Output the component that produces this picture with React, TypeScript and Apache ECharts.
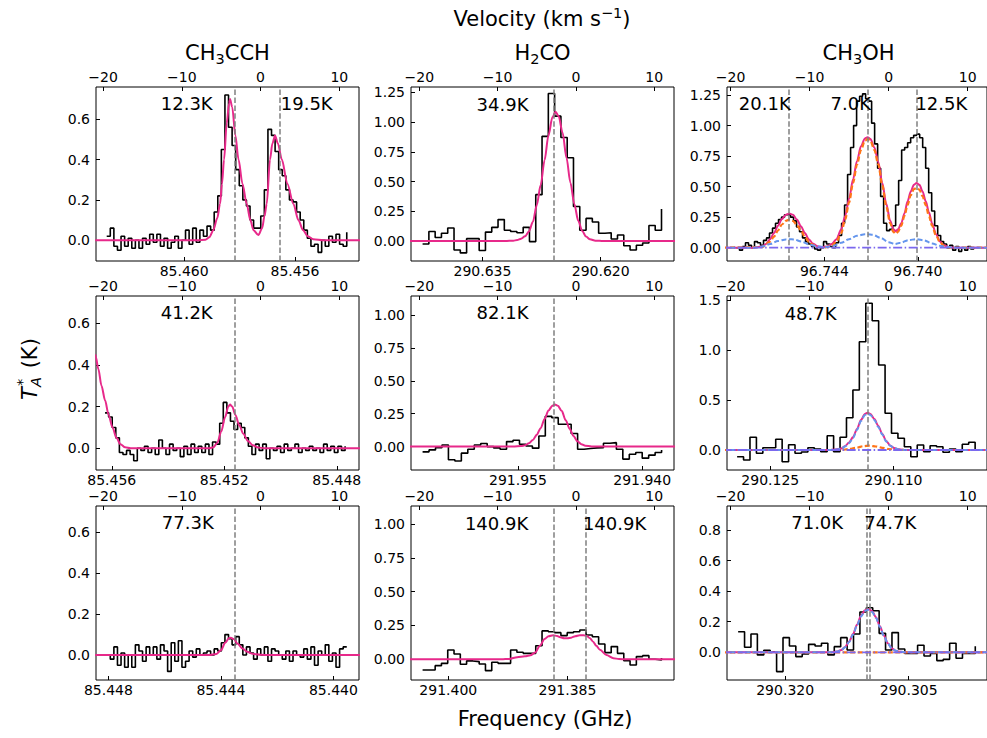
import React, { useEffect, useRef } from 'react';
import * as echarts from 'echarts';

const FONT = 'DejaVu Sans';
const GRID_LEFT = [96, 411, 727];
const GRID_TOP = [87, 296, 506];
const GRID_W = 263;
const GRID_H = 174;

const VEL_TICKS = [-20, -10, 0, 10];
const VEL_RANGE = [[-20.9, 12.5], [-21.06, 12.53], [-20.45, 12.45]];
const COL_TITLES = ['{m|CH}{s|3}{m|CCH}', '{m|H}{s|2}{m|CO}', '{m|CH}{s|3}{m|OH}'];

// ---------- CH3CCH ----------
const CH3CCH_A_T = [0.02, 0.06, -0.03, -0.05, 0.02, -0.03, 0.01, -0.04, 0.0, -0.04, 0.01, -0.02, 0.03, -0.01, 0.03, -0.03, 0.01, -0.04, -0.01, 0.02, -0.04, 0.0, 0.05, -0.02, 0.06, -0.01, 0.05, 0.02, 0.07, 0.05,
  0.14, 0.22, 0.45, 0.72, 0.56, 0.47, 0.35, 0.27, 0.2, 0.17, 0.1, 0.06, 0.06,
  0.12, 0.25, 0.55, 0.52, 0.44, 0.35, 0.32, 0.25, 0.2, 0.19, 0.14, 0.1, 0.05, 0.01,
  -0.03, -0.02, -0.06, 0.0, -0.03, 0.02, -0.01, 0.03, -0.02, -0.03, 0.04];
const CH3CCH_A_FIT = [[-21, 0], [-8, 0], [-7, 0.003], [-6.5, 0.015], [-6, 0.05], [-5.5, 0.11], [-5.15, 0.18], [-4.9, 0.28], [-4.64, 0.4], [-4.3, 0.58], [-4.0, 0.68], [-3.88, 0.70], [-3.6, 0.66], [-3.2, 0.52], [-2.8, 0.40], [-2.3, 0.28], [-1.76, 0.18], [-1.3, 0.1], [-0.9, 0.05], [-0.28, 0.026], [0.2, 0.06], [0.5, 0.12], [0.78, 0.18], [1.2, 0.4], [1.5, 0.48], [1.84, 0.52], [2.2, 0.48], [2.7, 0.40], [3.4, 0.28], [4.17, 0.18], [4.8, 0.1], [5.4, 0.05], [6, 0.02], [6.7, 0.005], [8, 0], [13, 0]];

const CH3CCH_B_T = [0.17, 0.15, 0.1, 0.05, -0.02, -0.03, -0.01, -0.03, -0.06, 0.0, -0.01, 0.01, -0.02, 0.0, -0.03, 0.04, 0.0, -0.03, 0.02, -0.01, 0.0, -0.04, 0.01, -0.03, 0.02, -0.02, 0.01, -0.02, 0.02, -0.03,
  0.03, 0.02, 0.12, 0.22, 0.17, 0.13, 0.09, 0.12, 0.1, 0.05,
  0.01, -0.03, 0.02, -0.01, 0.02, -0.05, 0.0, -0.01, 0.01, -0.02, 0.02, -0.01, 0.0, 0.02, -0.02, 0.0, -0.01, 0.01, -0.01, 0.0, -0.02, 0.02, -0.01, 0.01, -0.02, 0.01, -0.01, 0.01];
const CH3CCH_B_FIT = [[-21, 0.45], [-20.94, 0.44], [-20.6, 0.38], [-20.2, 0.3], [-19.75, 0.23], [-19.3, 0.16], [-18.8, 0.1], [-18.3, 0.05], [-17.8, 0.02], [-17.2, 0.005], [-16.5, 0], [-6.5, 0], [-6, 0.005], [-5.5, 0.025], [-5, 0.08], [-4.5, 0.15], [-4.1, 0.2], [-3.88, 0.21], [-3.6, 0.2], [-3.2, 0.16], [-2.7, 0.11], [-2.2, 0.07], [-1.6, 0.035], [-1, 0.015], [-0.3, 0.004], [0.5, 0], [13, 0]];

const CH3CCH_C_T = [0.0, -0.02, 0.04, -0.05, 0.01, -0.06, 0.0, -0.06, 0.05, 0.02, -0.03, 0.04, 0.0, 0.04, -0.02, 0.05, 0.02, -0.08, 0.06, -0.03, 0.07, -0.06, -0.03, 0.02, -0.01, 0.03, 0.0, 0.01, 0.02, 0.0,
  0.03, 0.02, 0.06, 0.1, 0.08, 0.05, 0.09, 0.05, 0.0, 0.04,
  0.01, -0.02, 0.03, 0.0, 0.04, -0.03, 0.03, 0.02, 0.0, -0.02, 0.02, -0.03, 0.02, 0.0, -0.01, 0.03, -0.02, 0.04, -0.05, 0.02, 0.0, 0.05, -0.03, 0.01, -0.06, 0.03, 0.04, 0.04];
const CH3CCH_C_FIT = [[-21, 0], [-6.5, 0], [-5.6, 0.005], [-5, 0.025], [-4.5, 0.06], [-4, 0.083], [-3.8, 0.085], [-3.4, 0.078], [-2.9, 0.055], [-2.3, 0.032], [-1.7, 0.016], [-1, 0.006], [0, 0.001], [1, 0], [13, 0]];

// ---------- H2CO ----------
const H2CO_A_T = [-0.025, 0.08, 0.03, 0.065, 0.11, -0.075, -0.1, 0.02, 0.02, -0.08, 0.075, 0.115, 0.18, 0.09, 0.08, 0.07, 0.115, -0.005, 0.39, 0.88, 1.24, 1.05, 0.87, 0.70, 0.29, 0.09, 0.19, 0.16, 0.065, 0.07, 0.017, 0.05, -0.04, -0.075, -0.035, -0.017, 0.13, 0.09, 0.27];
const H2CO_A_FIT = [[-22, 0], [-9, 0], [-8, 0.003], [-7.5, 0.008], [-7, 0.02], [-6.5, 0.04], [-6, 0.08], [-5.5, 0.16], [-5, 0.3], [-4.5, 0.47], [-4, 0.68], [-3.5, 0.89], [-3, 1.04], [-2.6, 1.087], [-2.2, 1.05], [-1.7, 0.91], [-1.2, 0.7], [-0.7, 0.49], [-0.2, 0.31], [0.3, 0.17], [0.8, 0.085], [1.3, 0.037], [1.8, 0.015], [2.5, 0.003], [3.5, 0], [13, 0]];

const H2CO_B_T = [-0.04, -0.025, -0.008, 0.012, -0.1, -0.11, -0.05, -0.02, 0.012, 0.023, 0.0, -0.01, -0.02, 0.038, 0.048, 0.018, 0.005, -0.012, 0.08, 0.23, 0.22, 0.17, 0.17, 0.1, -0.02, -0.015, -0.01, -0.008, 0.025, 0.03, -0.02, -0.095, -0.058, -0.045, -0.088, -0.065, -0.045, -0.025];
const H2CO_B_FIT = [[-22, 0], [-8, 0], [-7, 0.004], [-6.5, 0.01], [-6, 0.025], [-5.5, 0.05], [-5, 0.09], [-4.5, 0.14], [-4, 0.21], [-3.5, 0.275], [-3, 0.31], [-2.68, 0.32], [-2.3, 0.31], [-1.8, 0.27], [-1.3, 0.2], [-0.8, 0.135], [-0.3, 0.08], [0.2, 0.04], [0.7, 0.018], [1.2, 0.007], [2, 0.001], [3, 0], [13, 0]];

const H2CO_C_T = [-0.079, -0.079, -0.047, -0.03, 0.069, 0.039, -0.037, -0.012, -0.017, -0.035, -0.084, -0.022, -0.03, -0.03, 0.069, 0.052, 0.044, 0.044, 0.1, 0.21, 0.204, 0.197, 0.175, 0.197, 0.204, 0.217, 0.18, 0.167, 0.113, 0.049, 0.094, 0.044, -0.01, -0.042, 0.02, 0.027, 0.0, -0.005, 0.01];
const H2CO_C_FIT = [[-22, 0], [-9.5, 0], [-8.5, 0.003], [-7.5, 0.015], [-6.5, 0.022], [-5.8, 0.03], [-5.2, 0.05], [-4.6, 0.1], [-4.0, 0.15], [-3.5, 0.17], [-2.9, 0.178], [-2.4, 0.172], [-2, 0.163], [-1.5, 0.156], [-1.1, 0.155], [-0.6, 0.16], [-0.1, 0.17], [0.5, 0.178], [1.0, 0.178], [1.4, 0.172], [1.8, 0.155], [2.2, 0.13], [2.6, 0.1], [3.07, 0.07], [3.9, 0.032], [4.8, 0.008], [5.5, 0.002], [6.5, 0], [13, 0]];

// ---------- CH3OH ----------
const CH3OH_A_T = [0.0, -0.02, 0.01, 0.04, 0.02, 0.0, 0.05, 0.04, 0.02, 0.06, 0.08, 0.12, 0.16, 0.2, 0.23, 0.25, 0.27, 0.27, 0.25, 0.22,
  0.17, 0.13, 0.08, 0.05, 0.03, 0.01, -0.01, -0.02, 0.0, 0.05, 0.03, 0.01, 0.0, 0.04, 0.1, 0.2, 0.35, 0.6, 0.82, 1.0,
  1.2, 1.24, 1.26, 1.22, 1.2, 1.02, 0.85, 0.65, 0.42, 0.2, 0.14, 0.15, 0.18, 0.35, 0.55, 0.8, 0.82, 0.86, 0.9, 0.92,
  0.93, 0.9, 0.82, 0.65, 0.45, 0.3, 0.18, 0.1, 0.05, 0.03, 0.0, 0.02, -0.02, 0.01, -0.03, 0.0, -0.02, 0.01, -0.01, 0.0];
const CH3OH_A_FIT = [[-21, 0], [-17, 0], [-16, 0.01], [-15.5, 0.03], [-15, 0.07], [-14.5, 0.12], [-14, 0.18], [-13.5, 0.235], [-13, 0.27], [-12.58, 0.28], [-12.1, 0.27], [-11.6, 0.23], [-11.1, 0.175], [-10.6, 0.12], [-10.1, 0.07], [-9.6, 0.035], [-9, 0.012], [-8.4, 0.005], [-7.8, 0.01], [-7.2, 0.03], [-6.6, 0.07], [-6, 0.15], [-5.5, 0.26], [-5, 0.4], [-4.5, 0.56], [-4, 0.71], [-3.5, 0.83], [-3, 0.895], [-2.67, 0.905], [-2.3, 0.89], [-1.8, 0.82], [-1.3, 0.7], [-0.8, 0.53], [-0.3, 0.36], [0.2, 0.22], [0.6, 0.15], [0.9, 0.135], [1.2, 0.15], [1.6, 0.2], [2.0, 0.28], [2.4, 0.38], [2.8, 0.46], [3.2, 0.515], [3.54, 0.53], [3.9, 0.515], [4.3, 0.46], [4.7, 0.38], [5.1, 0.29], [5.5, 0.2], [6.0, 0.11], [6.5, 0.05], [7.0, 0.02], [7.6, 0.005], [8.5, 0], [13, 0]];
const CH3OH_A_C1 = [[-21, 0], [-16, 0.005], [-15, 0.05], [-14.5, 0.09], [-14, 0.14], [-13.5, 0.19], [-13, 0.22], [-12.58, 0.23], [-12.1, 0.22], [-11.6, 0.185], [-11.1, 0.14], [-10.6, 0.09], [-10.1, 0.05], [-9.5, 0.02], [-8.8, 0.005], [-8, 0.003], [-7.2, 0.015], [-6.6, 0.05], [-6, 0.12], [-5.5, 0.23], [-5, 0.37], [-4.5, 0.53], [-4, 0.68], [-3.5, 0.8], [-3, 0.875], [-2.67, 0.89], [-2.3, 0.875], [-1.8, 0.8], [-1.3, 0.68], [-0.8, 0.51], [-0.3, 0.34], [0.2, 0.2], [0.6, 0.13], [0.9, 0.115], [1.2, 0.13], [1.6, 0.18], [2.0, 0.26], [2.4, 0.35], [2.8, 0.43], [3.2, 0.48], [3.54, 0.49], [3.9, 0.475], [4.3, 0.42], [4.7, 0.35], [5.1, 0.26], [5.5, 0.18], [6, 0.1], [6.5, 0.045], [7, 0.015], [7.6, 0.003], [8.5, 0], [13, 0]];
const CH3OH_A_C2 = [[-21, 0], [-17, 0], [-16, 0.01], [-15, 0.03], [-14, 0.055], [-13, 0.068], [-12.58, 0.07], [-12, 0.068], [-11, 0.05], [-10, 0.025], [-9, 0.01], [-8, 0.005], [-7, 0.015], [-6, 0.04], [-5, 0.07], [-4, 0.098], [-3, 0.11], [-2.67, 0.11], [-2, 0.105], [-1, 0.08], [0, 0.045], [0.8, 0.03], [1.5, 0.04], [2.5, 0.062], [3.54, 0.07], [4.5, 0.06], [5.5, 0.035], [6.5, 0.015], [7.5, 0.005], [8.5, 0], [13, 0]];

const CH3OH_B_T = [-0.067, -0.1, 0.127, -0.033, 0.023, 0.023, 0.107, -0.117, 0.053, -0.033, -0.02, 0.023, 0.01, -0.017, 0.143, -0.017, 0.127, 0.323, 0.6, 1.083, 1.467, 1.293, 0.85, 0.367, 0.167, 0.117, 0.033, -0.067, 0.05, -0.017, 0.043, 0.033, -0.023, 0.01, -0.017, 0.057, 0.077, 0.0];
const CH3OH_B_FIT = [[-21, 0], [-7.5, 0], [-6.75, 0.005], [-6, 0.015], [-5.5, 0.04], [-5, 0.075], [-4.5, 0.13], [-4, 0.21], [-3.5, 0.3], [-3, 0.36], [-2.67, 0.373], [-2.3, 0.36], [-1.8, 0.31], [-1.3, 0.24], [-0.8, 0.16], [-0.3, 0.09], [0.2, 0.045], [0.7, 0.02], [1.3, 0.007], [2.2, 0], [13, 0]];
const CH3OH_B_C1 = [[-21, 0], [-6, 0], [-5, 0.01], [-4, 0.025], [-3.2, 0.038], [-2.4, 0.043], [-1.6, 0.035], [-0.8, 0.022], [0, 0.01], [1, 0.003], [2, 0], [13, 0]];
const CH3OH_B_C2 = [[-21, 0], [-7.5, 0], [-6.75, 0.004], [-6, 0.013], [-5.5, 0.035], [-5, 0.068], [-4.5, 0.12], [-4, 0.2], [-3.5, 0.29], [-3, 0.35], [-2.67, 0.362], [-2.3, 0.35], [-1.8, 0.3], [-1.3, 0.23], [-0.8, 0.155], [-0.3, 0.085], [0.2, 0.042], [0.7, 0.018], [1.3, 0.006], [2.2, 0], [13, 0]];

const CH3OH_C_T = [0.135, 0.033, 0.12, -0.017, 0.013, 0.004, -0.126, 0.096, 0.041, -0.028, -0.011, 0.052, 0.041, 0.059, -0.017, 0.037, 0.096, 0.015, 0.12, 0.264, 0.292, 0.272, 0.124, 0.015, 0.129, 0.022, -0.007, -0.007, 0.046, -0.024, -0.007, -0.054, -0.046, 0.059, -0.039, -0.007, -0.007, 0.04];
const CH3OH_C_FIT = [[-21, 0], [-7.5, 0], [-7, 0.002], [-6.5, 0.006], [-6, 0.015], [-5.5, 0.035], [-5, 0.07], [-4.5, 0.12], [-4, 0.18], [-3.5, 0.24], [-3, 0.275], [-2.58, 0.283], [-2.1, 0.27], [-1.6, 0.23], [-1.1, 0.17], [-0.6, 0.11], [-0.1, 0.06], [0.4, 0.027], [0.9, 0.01], [1.5, 0.003], [2.2, 0], [13, 0]];
const CH3OH_C_C2 = [[-21, 0], [-7.5, 0], [-7, 0.002], [-6.5, 0.006], [-6, 0.014], [-5.5, 0.033], [-5, 0.067], [-4.5, 0.116], [-4, 0.175], [-3.5, 0.234], [-3, 0.27], [-2.58, 0.278], [-2.1, 0.265], [-1.6, 0.225], [-1.1, 0.166], [-0.6, 0.107], [-0.1, 0.058], [0.4, 0.026], [0.9, 0.01], [1.5, 0.003], [2.2, 0], [13, 0]];
const ZERO_LINE = [[-21, 0], [13, 0]];

// frequency axes: [left edge, right edge] (GHz) and tick labels
const FREQ_EDGES = [
  [85.46318, 85.45369], [290.64407, 290.61070], [96.74817, 96.73704],
  [85.45656, 85.44721], [291.96792, 291.93616], [290.13027, 290.09863],
  [85.44844, 85.43909], [291.40469, 291.37160], [290.32706, 290.29550],
];
const FREQ_TICKS = [
  [85.460, 85.456], [290.635, 290.620], [96.744, 96.740],
  [85.456, 85.452, 85.448], [291.955, 291.940], [290.125, 290.110],
  [85.448, 85.444, 85.440], [291.400, 291.385], [290.320, 290.305],
];
const Y_RANGES = [
  [-0.103, 0.76], [-0.168, 1.295], [-0.109, 1.316],
  [-0.104, 0.73], [-0.178, 1.145], [-0.2, 1.54],
  [-0.122, 0.729], [-0.153, 1.133], [-0.181, 0.957],
];
const Y_TICKS = [
  [0, 0.2, 0.4, 0.6], [0, 0.25, 0.5, 0.75, 1.0, 1.25], [0, 0.25, 0.5, 0.75, 1.0, 1.25],
  [0, 0.2, 0.4, 0.6], [0, 0.25, 0.5, 0.75, 1.0], [0, 0.5, 1.0, 1.5],
  [0, 0.2, 0.4, 0.6], [0, 0.25, 0.5, 0.75, 1.0], [0, 0.2, 0.4, 0.6, 0.8],
];
const Y_DECIMALS = [1, 2, 2, 1, 2, 1, 1, 2, 1];
const SPECTRA = [CH3CCH_A_T, H2CO_A_T, CH3OH_A_T, CH3CCH_B_T, H2CO_B_T, CH3OH_B_T, CH3CCH_C_T, H2CO_C_T, CH3OH_C_T];
const SPEC_START = [-19.54, -19.58, -19.25, -19.75, -19.58, -19.17, -19.54, -19.58, -19.04];
const SPEC_STEP = [0.455, 0.803, 0.38, 0.455, 0.825, 0.814, 0.455, 0.803, 0.811];
const FITS = [CH3CCH_A_FIT, H2CO_A_FIT, CH3OH_A_FIT, CH3CCH_B_FIT, H2CO_B_FIT, CH3OH_B_FIT, CH3CCH_C_FIT, H2CO_C_FIT, CH3OH_C_FIT];
const COMP_ORANGE = [null, null, CH3OH_A_C1, null, null, CH3OH_B_C1, null, null, ZERO_LINE];
const COMP_BLUE = [null, null, CH3OH_A_C2, null, null, CH3OH_B_C2, null, null, CH3OH_C_C2];
const COMP_PURPLE = [null, null, ZERO_LINE, null, null, ZERO_LINE, null, null, ZERO_LINE];
const VLINES = [[-3.25, 2.47], [-2.81], [-12.58, -2.67, 3.54], [-3.24], [-2.81], [-2.67], [-3.24], [-2.81, 1.28], [-2.79, -2.375]];
const TEMP_LABELS = [
  [[-9.38, 0.676, '12.3K'], [5.86, 0.676, '19.5K']],
  [[-9.37, 1.152, '34.9K']],
  [[-15.67, 1.177, '20.1K'], [-4.79, 1.177, '7.0K'], [6.67, 1.177, '12.5K']],
  [[-9.38, 0.649, '41.2K']],
  [[-9.37, 1.016, '82.1K']],
  [[-9.875, 1.37, '48.7K']],
  [[-9.25, 0.646, '77.3K']],
  [[-10.13, 1.007, '140.9K'], [4.94, 1.007, '140.9K']],
  [[-9.04, 0.846, '71.0K'], [0.21, 0.846, '74.7K']],
];

const MAGENTA = '#e7298a';
const ORANGE = '#ff7417';
const BLUE = '#6495ed';
const PURPLE = '#7b68ee';

const minus = (v: number) => String(v).replace('-', '\u2212');

function buildOption() {
  const grid: any[] = [];
  const xAxis: any[] = [];
  const yAxis: any[] = [];
  const series: any[] = [];
  const tickStyle = { show: true, inside: true, length: 4, lineStyle: { color: '#000', width: 1 } };
  const labelStyle = { fontSize: 14, fontFamily: FONT, color: '#000' };
  const noLine = { show: false, onZero: false };
  for (let g = 0; g < 9; g++) {
    const row = Math.floor(g / 3);
    const col = g % 3;
    grid.push({ left: GRID_LEFT[col], top: GRID_TOP[row], width: GRID_W, height: GRID_H, show: true, borderColor: '#000', borderWidth: 1, backgroundColor: 'transparent' });
    xAxis.push({
      type: 'value', gridIndex: g, position: 'top', min: VEL_RANGE[col][0], max: VEL_RANGE[col][1],
      axisLine: noLine, splitLine: { show: false },
      axisTick: { ...tickStyle, customValues: VEL_TICKS },
      axisLabel: { ...labelStyle, show: true, margin: 3, customValues: VEL_TICKS, formatter: (v: number) => minus(v) },
    });
    xAxis.push({
      type: 'value', gridIndex: g, position: 'bottom', inverse: true, min: FREQ_EDGES[g][1], max: FREQ_EDGES[g][0],
      axisLine: noLine, splitLine: { show: false },
      axisTick: { ...tickStyle, customValues: FREQ_TICKS[g] },
      axisLabel: { ...labelStyle, show: true, margin: 3, customValues: FREQ_TICKS[g], formatter: (v: number) => v.toFixed(3) },
    });
    const dec = Y_DECIMALS[g];
    yAxis.push({
      type: 'value', gridIndex: g, position: 'left', min: Y_RANGES[g][0], max: Y_RANGES[g][1],
      axisLine: noLine, splitLine: { show: false },
      axisTick: { ...tickStyle, customValues: Y_TICKS[g] },
      axisLabel: { ...labelStyle, show: true, margin: 6, customValues: Y_TICKS[g], formatter: (v: number) => v.toFixed(dec) },
    });
    const xi = 2 * g;
    const spec = SPECTRA[g].map((y, i) => [SPEC_START[g] + i * SPEC_STEP[g], y]);
    series.push({
      type: 'line', xAxisIndex: xi, yAxisIndex: g, data: spec, step: 'end', symbol: 'none', z: 2,
      lineStyle: { color: '#000', width: 1.6 }, silent: true,
      markLine: {
        silent: true, symbol: ['none', 'none'], label: { show: false },
        lineStyle: { color: '#808080', type: [5.5, 2.4], width: 1.5 },
        data: VLINES[g].map((v) => ({ xAxis: v })),
      },
    });
    series.push({
      type: 'line', xAxisIndex: xi, yAxisIndex: g, data: FITS[g], symbol: 'none', smooth: 0.3, smoothMonotone: 'x', z: 3,
      lineStyle: { color: MAGENTA, width: 2 }, silent: true,
    });
    if (COMP_ORANGE[g]) series.push({
      type: 'line', xAxisIndex: xi, yAxisIndex: g, data: COMP_ORANGE[g], symbol: 'none', smooth: 0.3, smoothMonotone: 'x', z: 4,
      lineStyle: { color: ORANGE, width: 2.2, type: [5, 2.5] }, silent: true,
    });
    if (COMP_BLUE[g]) series.push({
      type: 'line', xAxisIndex: xi, yAxisIndex: g, data: COMP_BLUE[g], symbol: 'none', smooth: 0.3, smoothMonotone: 'x', z: 4,
      lineStyle: { color: BLUE, width: 2, type: [5, 2.5] }, silent: true,
    });
    if (COMP_PURPLE[g]) series.push({
      type: 'line', xAxisIndex: xi, yAxisIndex: g, data: COMP_PURPLE[g], symbol: 'none', z: 5,
      lineStyle: { color: PURPLE, width: 1.8, type: [9, 2.5, 1.5, 2.5] }, silent: true,
    });
    series.push({
      type: 'scatter', xAxisIndex: xi, yAxisIndex: g, data: TEMP_LABELS[g], symbolSize: 1, z: 6, silent: true,
      itemStyle: { color: '#fff', opacity: 0 },
      label: {
        show: true, position: [0.5, 0.5], align: 'center', verticalAlign: 'middle',
        formatter: (p: any) => p.data[2], fontSize: 18, fontFamily: FONT, color: '#000',
        textBorderWidth: 0, opacity: 1,
      },
    });
  }

  const richMain = { fontSize: 21, fontFamily: FONT, fill: '#000' };
  const richSub = { fontSize: 14.5, fontFamily: FONT, fill: '#000', padding: [12, 0, 0, 0] };
  const richSup = { fontSize: 14.5, fontFamily: FONT, fill: '#000', padding: [0, 0, 12, 0] };
  const graphic: any[] = [];
  COL_TITLES.forEach((t, c) => {
    graphic.push({
      type: 'text', x: GRID_LEFT[c] + GRID_W / 2, y: 53,
      style: { text: t, align: 'center', verticalAlign: 'middle', rich: { m: richMain, s: richSub } },
    });
  });
  graphic.push({
    type: 'text', x: 542, y: 19,
    style: { text: '{m|Velocity (km s}{p|\u22121}{m|)}', align: 'center', verticalAlign: 'middle', rich: { m: richMain, p: richSup } },
  });
  graphic.push({
    type: 'text', x: 545, y: 719,
    style: { text: 'Frequency (GHz)', font: `21px "${FONT}"`, fill: '#000', align: 'center', verticalAlign: 'middle' },
  });
  graphic.push({
    type: 'group', x: 30, y: 370, rotation: Math.PI / 2,
    children: [
      { type: 'text', x: -30, y: 0, style: { text: 'T', font: `italic 21px "${FONT}"`, fill: '#000', align: 'left', verticalAlign: 'middle' } },
      { type: 'text', x: -16, y: -8, style: { text: '*', font: `14.5px "${FONT}"`, fill: '#000', align: 'left', verticalAlign: 'middle' } },
      { type: 'text', x: -17, y: 6, style: { text: 'A', font: `italic 14.5px "${FONT}"`, fill: '#000', align: 'left', verticalAlign: 'middle' } },
      { type: 'text', x: -5, y: 0, style: { text: ' (K)', font: `21px "${FONT}"`, fill: '#000', align: 'left', verticalAlign: 'middle' } },
    ],
  });

  return {
    animation: false,
    backgroundColor: '#fff',
    textStyle: { fontFamily: FONT },
    grid, xAxis, yAxis, series, graphic,
  };
}

export default function App() {
  const ref = useRef<HTMLDivElement>(null);
  useEffect(() => {
    if (!ref.current) return;
    const chart = echarts.init(ref.current, undefined, { renderer: 'svg' });
    chart.setOption(buildOption() as any);
    return () => chart.dispose();
  }, []);
  return <div ref={ref} style={{ position: 'fixed', left: 0, top: 0, width: 987, height: 738, background: '#fff' }} />;
}
